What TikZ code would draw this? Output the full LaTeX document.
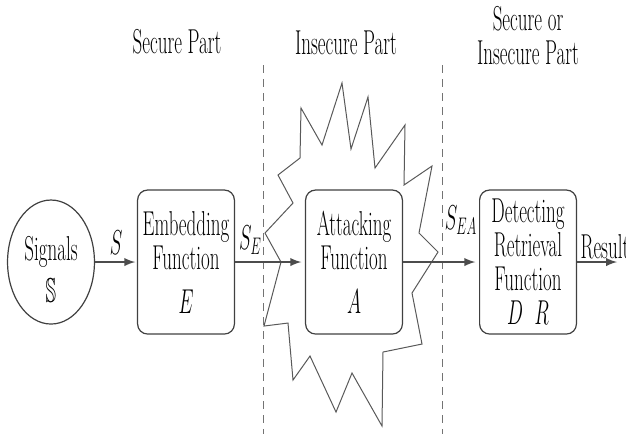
\documentclass[tikz,border=0pt]{standalone}
\usepackage{amssymb}
\usetikzlibrary{shapes.geometric}
\tikzset{
  blk/.style={draw=black!75, line width=0.6pt, rounded corners=5pt, minimum width=88pt, minimum height=72pt, inner sep=0pt, align=center},
  arr/.style={-latex, draw=black!70, line width=0.9pt},
  part/.style={draw=black!55, line width=0.5pt, dash pattern=on 4pt off 3pt}
}
\begin{document}
\begin{tikzpicture}[x=0.909pt, y=-0.5pt, xscale=0.55, every node/.style={transform shape}, font=\fontsize{17.28}{17}\selectfont]
   \useasboundingbox (0,0) rectangle (626,434);
   \node (hsec) at (177,42) {Secure Part};
   \node (hins) at (346,43) {Insecure Part};
   \node[align=center] (hboth) at (528,36) {Secure or\\Insecure Part};
   \draw[part] (263,65) -- (263,434);
   \draw[part] (442,65) -- (442,434);
   \draw[black!65, line width=0.5pt] (265,233) -- (293,203) -- (278,175) -- (300,158) -- (301,108) -- (322,145)
      -- (342,83) -- (351,149) -- (368,97) -- (375,168) -- (405,125) -- (404,185) -- (432,166) -- (419,233)
      -- (438,252) -- (412,293) -- (422,344) -- (383,352) -- (382,426) -- (352,373) -- (336,412) -- (310,356)
      -- (293,380) -- (288,323) -- (264,326) -- (281,262) -- cycle;
   \node[draw=black!75, line width=0.6pt, ellipse, minimum width=79pt, minimum height=62pt, inner sep=0pt, align=center] (sig) at (51,262) {\rule{0pt}{19pt}Signals\\[4pt]$\mathbb{S}$};
   \node[blk] (emb) at (186,262) {Embedding\\Function\\[5pt]$E$};
   \node[blk] (att) at (354,262) {Attacking\\Function\\[5pt]$A$};
   \node[blk] (det) at (528,262) {Detecting\\Retrieval\\Function\\$D\ \ R$};
   \coordinate (out) at (617,262);
   \draw[arr, shorten >=1pt] (sig) -- node[above] (ls) {$S$} (emb);
   \draw[arr, shorten >=2pt] (emb) -- node[pos=0.22, above] (lse) {$S_E$} (att);
   \draw[arr, shorten >=2pt] (att) -- node[pos=0.76, above=10pt] (lsea) {$S_{EA}$} (det);
   \draw[arr] (det) -- node[pos=0, anchor=south west, inner sep=1pt, xshift=2pt] (lres) {Result} (out);
\end{tikzpicture}
\end{document}
